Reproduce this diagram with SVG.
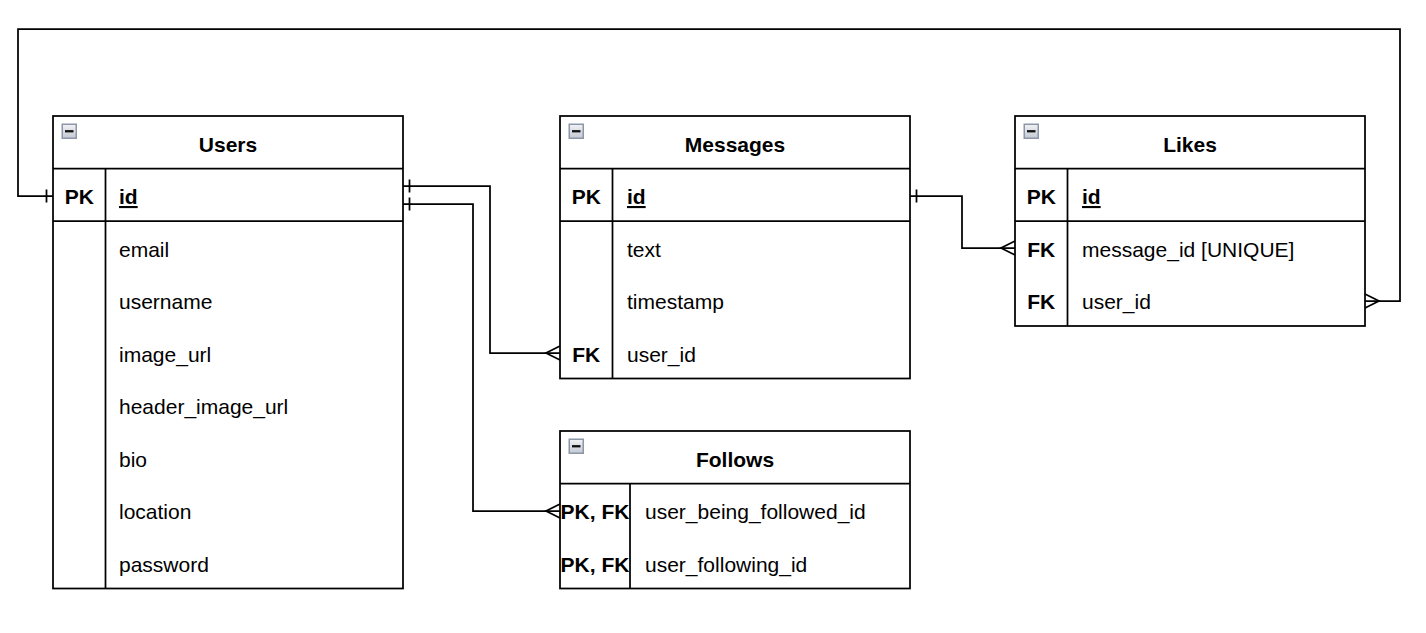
<svg xmlns="http://www.w3.org/2000/svg" width="1426" height="633" viewBox="0 0 1426 633">
<defs>
<linearGradient id="g" x1="0" y1="0" x2="0" y2="1"><stop offset="0" stop-color="#f2f3f6"/><stop offset="1" stop-color="#c3c8d2"/></linearGradient>
<g id="icon"><rect x="0.75" y="0.75" width="14" height="14" fill="url(#g)" stroke="#8c96a8" stroke-width="1.5"/><rect x="3.5" y="6.6" width="8.5" height="2.3" fill="#111"/></g>
</defs>
<style>
.box{fill:#fff;stroke:#000;stroke-width:1.75}
.ln{stroke:#000;stroke-width:1.75;fill:none}
.t{font-family:"Liberation Sans",Arial,sans-serif;font-size:21px;fill:#000}
.h{font-weight:bold;text-anchor:middle}
.k{font-weight:bold;text-anchor:middle}
.u{text-decoration:underline;font-weight:bold}
.c{stroke:#000;stroke-width:1.75;fill:none}
</style>
<rect width="1426" height="633" fill="#fff"/>
<g id="users">
<rect class="box" x="53" y="116" width="350" height="472.5"/>
<line class="ln" x1="53" y1="168.5" x2="403" y2="168.5"/>
<line class="ln" x1="53" y1="221" x2="403" y2="221"/>
<line class="ln" x1="105.5" y1="168.5" x2="105.5" y2="588.5"/>
<use href="#icon" x="61.5" y="123.5"/>
<text class="t h" x="228" y="151.5">Users</text>
<text class="t k" x="79.25" y="204">PK</text>
<text class="t u" x="119" y="204">id</text>
<text class="t" x="119" y="256.5">email</text>
<text class="t" x="119" y="309">username</text>
<text class="t" x="119" y="361.5">image_url</text>
<text class="t" x="119" y="414">header_image_url</text>
<text class="t" x="119" y="466.5">bio</text>
<text class="t" x="119" y="519">location</text>
<text class="t" x="119" y="571.5">password</text>
</g>
<g id="messages">
<rect class="box" x="560" y="116" width="350" height="262.5"/>
<line class="ln" x1="560" y1="168.5" x2="910" y2="168.5"/>
<line class="ln" x1="560" y1="221" x2="910" y2="221"/>
<line class="ln" x1="612.5" y1="168.5" x2="612.5" y2="378.5"/>
<use href="#icon" x="568.5" y="123.5"/>
<text class="t h" x="735" y="151.5">Messages</text>
<text class="t k" x="586.25" y="204">PK</text>
<text class="t u" x="627" y="204">id</text>
<text class="t" x="627" y="256.5">text</text>
<text class="t" x="627" y="309">timestamp</text>
<text class="t k" x="586.25" y="361.5">FK</text>
<text class="t" x="627" y="361.5">user_id</text>
</g>
<g id="likes">
<rect class="box" x="1015" y="116" width="350" height="210"/>
<line class="ln" x1="1015" y1="168.5" x2="1365" y2="168.5"/>
<line class="ln" x1="1015" y1="221" x2="1365" y2="221"/>
<line class="ln" x1="1067.5" y1="168.5" x2="1067.5" y2="326"/>
<use href="#icon" x="1023.5" y="123.5"/>
<text class="t h" x="1190" y="151.5">Likes</text>
<text class="t k" x="1041.25" y="204">PK</text>
<text class="t u" x="1082" y="204">id</text>
<text class="t k" x="1041.25" y="256.5">FK</text>
<text class="t" x="1082" y="256.5">message_id [UNIQUE]</text>
<text class="t k" x="1041.25" y="309">FK</text>
<text class="t" x="1082" y="309">user_id</text>
</g>
<g id="follows">
<rect class="box" x="560" y="431" width="350" height="157.5"/>
<line class="ln" x1="560" y1="483.5" x2="910" y2="483.5"/>
<line class="ln" x1="630" y1="483.5" x2="630" y2="588.5"/>
<use href="#icon" x="568.5" y="438.5"/>
<text class="t h" x="735" y="466.5">Follows</text>
<text class="t k" x="595" y="519">PK, FK</text>
<text class="t" x="645" y="519">user_being_followed_id</text>
<text class="t k" x="595" y="571.5">PK, FK</text>
<text class="t" x="645" y="571.5">user_following_id</text>
</g>
<g id="connectors">
<path class="c" d="M403 186H490V353H560"/>
<path class="c" d="M409.5 179.5V192.5"/>
<path class="c" d="M560 346L546 353L560 360"/>
<path class="c" d="M403 204H473V511H560"/>
<path class="c" d="M409.5 197.5V210.5"/>
<path class="c" d="M560 504L546 511L560 518"/>
<path class="c" d="M910 196H962V248H1015"/>
<path class="c" d="M916.5 189.5V202.5"/>
<path class="c" d="M1015 241L1001 248L1015 255"/>
<path class="c" d="M53 196H18V29H1400V301H1365"/>
<path class="c" d="M46.5 189.5V202.5"/>
<path class="c" d="M1365 294L1379 301L1365 308"/>
</g>
</svg>
